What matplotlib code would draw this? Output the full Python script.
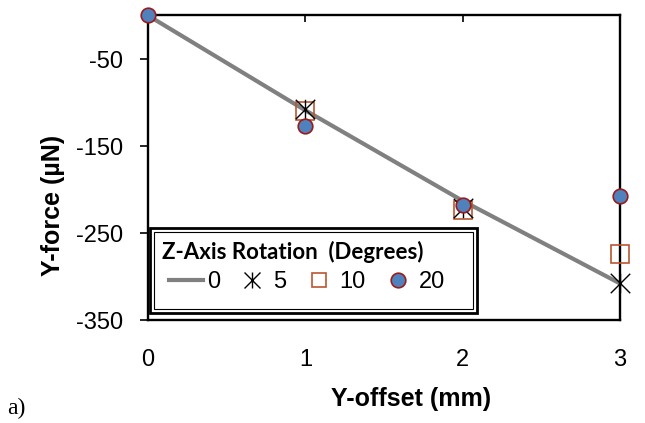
import numpy as np
import matplotlib
matplotlib.use("Agg")
import matplotlib.pyplot as plt
from matplotlib.path import Path
from matplotlib.patches import Rectangle

# ---------------------------------------------------------
# Datos
# ---------------------------------------------------------
offset_mm = [0, 1, 2, 3]
fuerza_0 = [0, -109, -213, -308]
fuerza_20 = [0, -127, -218, -207]
# las series 5 y 10 no muestran punto en el origen
offset_mm_b = [1, 2, 3]
fuerza_5 = [-108, -221, -308]
fuerza_10 = [-110, -223, -274]

etiquetas = ['0', '5', '10', '20']
y_ticks = [-350, -250, -150, -50]
x_ticks = [0, 1, 2, 3]

plt.rcParams['font.family'] = ['Liberation Sans', 'DejaVu Sans']
plt.rcParams['axes.unicode_minus'] = False

# marcador tipo Excel: X con barra vertical
star = Path([(-1, -1), (1, 1), (-1, 1), (1, -1), (0, -1), (0, 1)],
            [Path.MOVETO, Path.LINETO, Path.MOVETO, Path.LINETO, Path.MOVETO, Path.LINETO])

fig = plt.figure(figsize=(6.45, 4.23), dpi=100)
ax = fig.add_axes([148 / 645, 103 / 423, 472 / 645, 304.5 / 423])

l0, = ax.plot(offset_mm, fuerza_0, color='#808080', lw=3, label=etiquetas[0], zorder=2)
l10, = ax.plot(offset_mm_b, fuerza_10, ls='none', marker='s', ms=13.5, mfc='none',
               mec='#B9562F', mew=1.2, label=etiquetas[2], zorder=3)
l5, = ax.plot(offset_mm_b, fuerza_5, ls='none', marker=star, ms=14, mfc='none',
              mec='black', mew=1.0, label=etiquetas[1], zorder=4)
l20, = ax.plot(offset_mm, fuerza_20, ls='none', marker='o', ms=10.5, mfc='#4F81BD',
               mec='#9B1B1B', mew=1.2, label=etiquetas[3], zorder=5)
for ln in (l10, l5, l20):
    ln.set_clip_on(False)

ax.set_xlim(0, 3)
ax.set_ylim(-350, 0)
ax.set_xticks(x_ticks)
ax.set_yticks(y_ticks)

for s in ax.spines.values():
    s.set_linewidth(1.7)
    s.set_color('black')

ax.tick_params(axis='y', direction='out', length=6, width=1.2, labelsize=17, pad=12)
ax.tick_params(axis='x', top=True, bottom=False, direction='in', length=5, width=1.2,
               labelbottom=True, labeltop=False, labelsize=17, pad=21)

ax.set_xlabel('Y-offset (mm)', fontsize=18, fontweight='bold')
ax.xaxis.label.set_va('center')
ax.xaxis.set_label_coords(0.557, -0.258)
ax.set_ylabel('Y-force (\u00b5N)', fontsize=18, fontweight='bold')
ax.yaxis.label.set_va('center')
ax.yaxis.set_label_coords(-0.201, 0.375)

# cuadro de la leyenda (doble borde como en Excel)
x0, y0, w, h = 2 / 472, 7 / 304.5, 327 / 472, 85 / 304.5
ax.add_patch(Rectangle((x0, y0), w, h, transform=ax.transAxes, facecolor='white',
                       edgecolor='black', lw=2.0, zorder=9, clip_on=False))
dx, dy = 4 / 472, 4 / 304.5
ax.add_patch(Rectangle((x0 + dx, y0 + dy), w - 2 * dx, h - 2 * dy, transform=ax.transAxes,
                       facecolor='none', edgecolor='black', lw=0.8, zorder=9, clip_on=False))

ax.text(14 / 472, (320 - 252) / 304.5, 'Z-Axis Rotation  (Degrees)', transform=ax.transAxes,
        family='Lato', fontweight='bold', fontsize=16, va='center', ha='left', zorder=11)

leg = ax.legend([l0, l5, l10, l20], etiquetas, ncol=4, loc='center left',
                bbox_to_anchor=(21 / 472, (320 - 282) / 304.5), borderaxespad=0,
                borderpad=0, frameon=False, prop={'size': 17}, handlelength=1.44,
                handletextpad=0.17, columnspacing=0.64)
leg.set_zorder(11)
leg.legend_handles[1].set_markersize(11.5)
leg.legend_handles[2].set_markersize(10.5)

fig.text(7 / 645, 1 - 408 / 423, 'a)', family='Liberation Serif', fontsize=17, va='center')

fig.savefig('out.png', dpi=100)
